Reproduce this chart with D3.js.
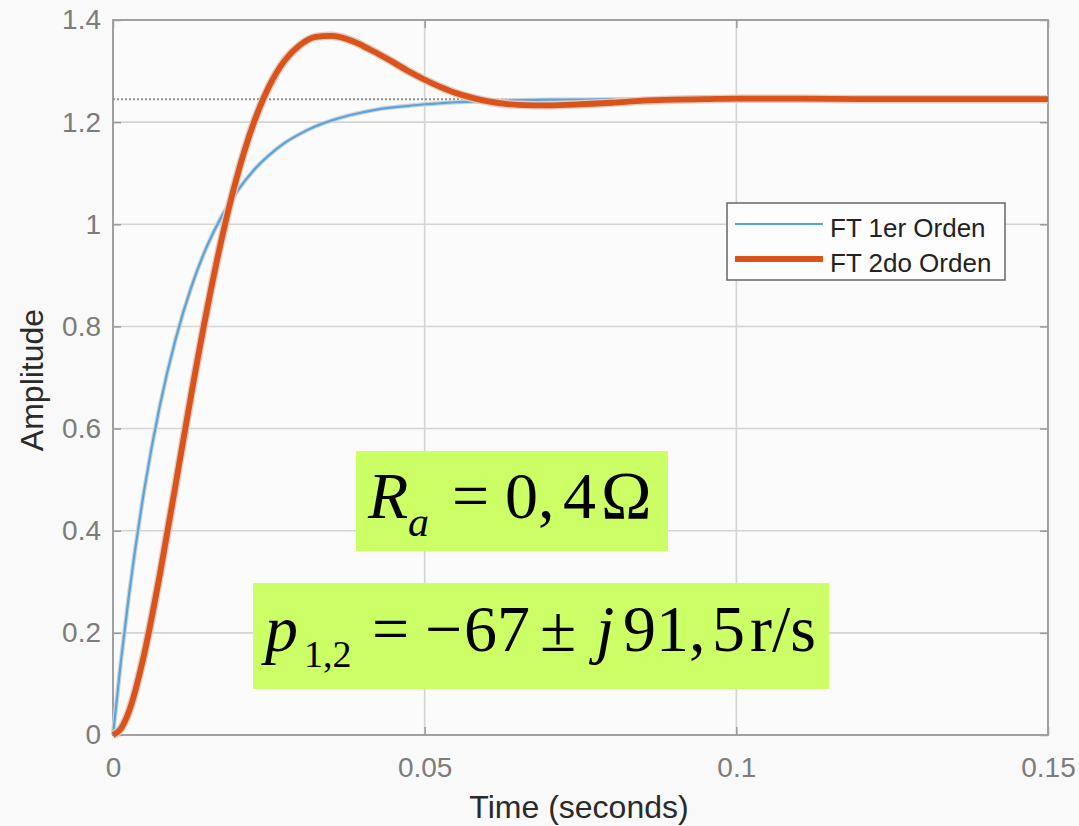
<!DOCTYPE html>
<html>
<head>
<meta charset="utf-8">
<script src="https://cdn.jsdelivr.net/npm/d3@7"></script>
<style>
body{margin:0;background:#f9f9f9}
</style>
</head>
<body>
<div id="chart"></div>
<script>
// step response values
var times=[0,0.00125,0.0025,0.005,0.0075,0.01,0.0125,0.015,0.0175,0.02,0.0225,0.025,0.0275,0.03,0.0325,0.035,0.0375,0.04,0.0425,0.045,0.0475,0.05,0.0525,0.055,0.0575,0.06,0.065,0.07,0.075,0.08,0.085,0.09,0.095,0.1,0.11,0.12,0.13,0.14,0.15]
var firstOrder=[0,0.142,0.268,0.479,0.644,0.773,0.875,0.955,1.017,1.066,1.105,1.135,1.159,1.177,1.192,1.203,1.212,1.219,1.225,1.229,1.232,1.235,1.237,1.239,1.240,1.241,1.243,1.244,1.244,1.245,1.245,1.245,1.245,1.245,1.245,1.245,1.245,1.245,1.245]
var secondOrder=[0,0.012,0.044,0.158,0.313,0.487,0.663,0.828,0.975,1.098,1.196,1.269,1.320,1.351,1.367,1.369,1.363,1.350,1.334,1.317,1.299,1.283,1.269,1.257,1.248,1.241,1.234,1.233,1.235,1.238,1.242,1.244,1.245,1.246,1.246,1.245,1.245,1.245,1.245]
var finalValue=1.245
var finalEnd=0.0825
var seriesNames=["FT 1er Orden","FT 2do Orden"]
var xTicks=[0,0.05,0.1,0.15]
var yTicks=[0,0.2,0.4,0.6,0.8,1,1.2,1.4]

var margins={left:113,right:31,top:20,bottom:91}
var svgW=1079, svgH=826
var chartW=svgW-margins.left-margins.right
var chartH=svgH-margins.top-margins.bottom
var sans='"Liberation Sans", Arial, sans-serif'

var svg=d3.select('#chart').append('svg')
    .attr('width',svgW)
    .attr('height',svgH)
    .style('background','#f9f9f9')
var chart=svg.append('g')
    .attr('transform',`translate(${margins.left},${margins.top})`)

var xscale=d3.scaleLinear().domain([0,0.15]).range([0,chartW])
var yscale=d3.scaleLinear().domain([0,1.4]).range([chartH,0])

chart.append('rect')
    .attr('width',chartW).attr('height',chartH)
    .attr('fill','#fbfbfb')

// grid
chart.selectAll('.gx').data(xTicks).enter().append('line')
    .attr('x1',d=>xscale(d)).attr('x2',d=>xscale(d))
    .attr('y1',0).attr('y2',chartH)
    .attr('stroke','#d4d4d4').attr('stroke-width',1.6)
chart.selectAll('.gy').data(yTicks).enter().append('line')
    .attr('y1',d=>yscale(d)).attr('y2',d=>yscale(d))
    .attr('x1',0).attr('x2',chartW)
    .attr('stroke','#d4d4d4').attr('stroke-width',1.6)

// axes
var xaxis=d3.axisBottom(xscale).tickValues(xTicks).tickSize(-8).tickPadding(22).tickFormat(d=>d===0?'0':String(d))
var yaxis=d3.axisLeft(yscale).tickValues(yTicks).tickSize(-8).tickPadding(12).tickFormat(d=>d===0?'0':String(d))
chart.append('g').attr('transform',`translate(0,${chartH})`).call(xaxis)
chart.append('g').call(yaxis)
chart.append('g').attr('transform',`translate(${chartW},0)`)
    .call(d3.axisRight(yscale).tickValues(yTicks).tickSize(-8).tickFormat(''))
chart.append('g')
    .call(d3.axisTop(xscale).tickValues(xTicks).tickSize(-8).tickFormat(''))
chart.selectAll('.domain').remove()
chart.selectAll('.tick line').attr('stroke','#999').attr('stroke-width',1.5)
chart.selectAll('.tick text')
    .attr('fill','#7c7c7c')
    .style('font-family',sans)
    .style('font-size','28px')

chart.append('rect')
    .attr('width',chartW).attr('height',chartH)
    .attr('fill','none').attr('stroke','#a0a0a0').attr('stroke-width',2)

// steady state dotted line
chart.append('line')
    .attr('x1',xscale(0)).attr('x2',xscale(finalEnd))
    .attr('y1',yscale(finalValue)).attr('y2',yscale(finalValue))
    .attr('stroke','#8c8c8c').attr('stroke-width',2)
    .attr('stroke-dasharray','2,2')

var line1=d3.line().x((d,i)=>xscale(times[i])).y(d=>yscale(d)).curve(d3.curveMonotoneX)

chart.append('path').datum(firstOrder).attr('d',line1)
    .attr('fill','none').attr('stroke','#d2d2d2').attr('stroke-width',4.5)
chart.append('path').datum(firstOrder).attr('d',line1)
    .attr('fill','none').attr('stroke','#55a6de').attr('stroke-width',2.2)
chart.append('path').datum(secondOrder).attr('d',line1)
    .attr('fill','none').attr('stroke','#e2cbc0').attr('stroke-width',8.5)
chart.append('path').datum(secondOrder).attr('d',line1)
    .attr('fill','none').attr('stroke','#d9531a').attr('stroke-width',5.8)

// legend
var leg=svg.append('g').attr('transform','translate(727,203)')
leg.append('rect').attr('width',278).attr('height',77)
    .attr('fill','#fdfdfd').attr('stroke','#666').attr('stroke-width',1.5)
var legColors=['#55a6de','#d9531a']
var legWidths=[2.2,5.8]
seriesNames.forEach(function(n,i){
    var y=21+i*35
    leg.append('line').attr('x1',8).attr('x2',96).attr('y1',y).attr('y2',y)
        .attr('stroke',legColors[i]).attr('stroke-width',legWidths[i])
    leg.append('text').attr('x',103).attr('y',y+12.5).text(n)
        .attr('fill','#222')
        .style('font-family',sans)
        .style('font-size','26px')
})

// axis labels
svg.append('text').attr('x',579).attr('y',818).attr('text-anchor','middle')
    .text('Time (seconds)').attr('fill','#2a2a2a')
    .style('font-family',sans).style('font-size','32px')
svg.append('text').attr('transform','translate(43,380) rotate(-90)').attr('text-anchor','middle')
    .text('Amplitude').attr('fill','#2a2a2a')
    .style('font-family',sans).style('font-size','32px')

// annotation boxes
var serif='"Liberation Serif", "Times New Roman", serif'
svg.append('rect').attr('x',356).attr('y',451).attr('width',312).attr('height',100).attr('fill','#ccff66')
svg.append('rect').attr('x',253).attr('y',583).attr('width',576).attr('height',106).attr('fill','#ccff66')

function txt(x,y,s,size,italic){
    svg.append('text').attr('x',x).attr('y',y).text(s)
        .attr('fill','#000')
        .style('font-family',serif).style('font-size',size+'px')
        .style('font-style',italic?'italic':'normal')
}
txt(368,518,'R',66,true)
txt(408,536,'a',42,true)
txt(452,518,'=',66,false)
txt(505,518,'0,',66,false)
txt(563,518,'4',66,false)
txt(601,518,'\u03A9',68,false)

txt(265,651,'p',66,true)
txt(304,667,'1,2',38,false)
txt(372,651,'=',66,false)
txt(425,651,'\u2212',66,false)
txt(464,651,'67',66,false)
txt(540,651,'\u00B1',66,false)
txt(596,651,'j',66,true)
txt(623,651,'91,',66,false)
txt(712,651,'5',66,false)
txt(750,651,'r/s',66,false)
</script>
</body>
</html>
